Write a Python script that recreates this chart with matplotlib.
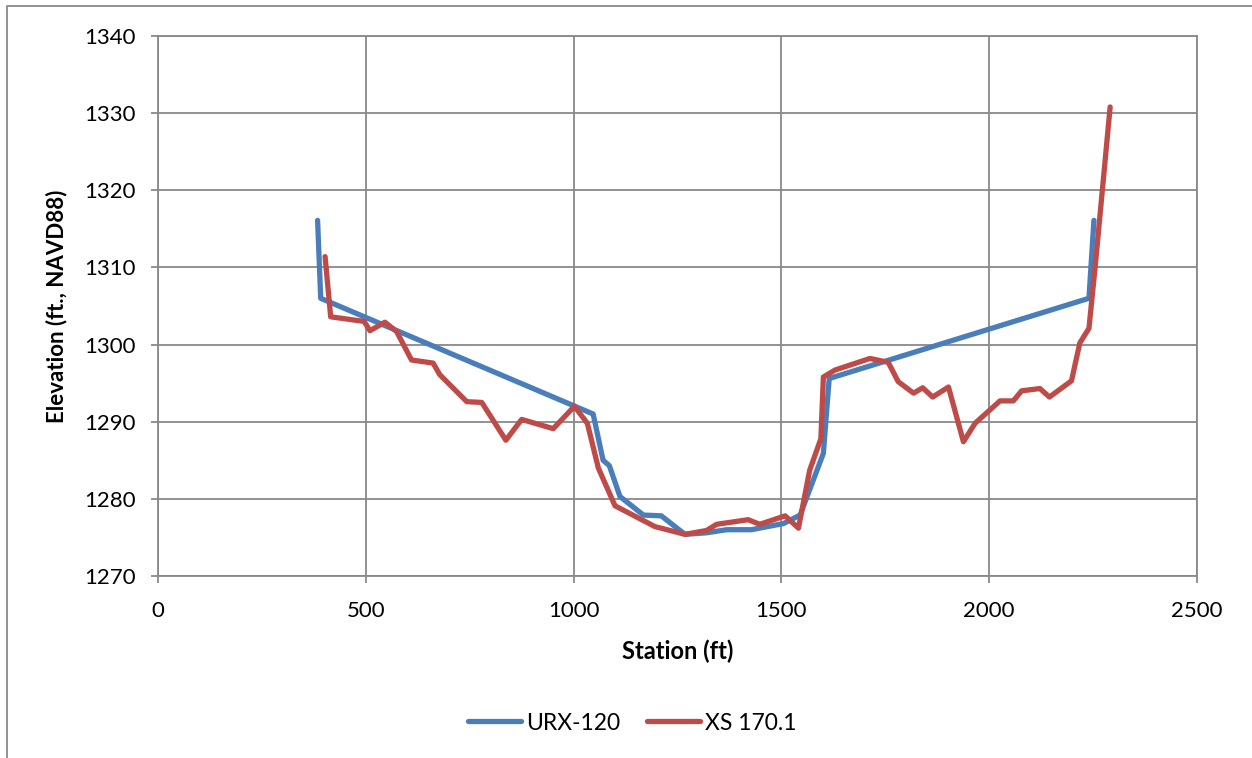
import matplotlib
matplotlib.use("Agg")
import matplotlib.pyplot as plt
from matplotlib.lines import Line2D

# Cross-section survey data: station (ft) vs. elevation (ft, NAVD88)
urx_station = [384, 391.5, 1047, 1071, 1086, 1111.6, 1168, 1211, 1268, 1320,
               1368, 1428, 1505, 1545, 1601, 1615, 2240, 2252]
urx_elev = [1316.1, 1306.0, 1291.0, 1285.0, 1284.3, 1280.3, 1277.9, 1277.8,
            1275.4, 1275.6, 1276.0, 1276.0, 1276.8, 1277.9, 1285.9, 1295.6,
            1306.0, 1316.1]

xs_station = [402, 415.5, 496, 510, 546, 574, 610, 662, 678, 743, 779, 837,
              875, 951, 1002, 1033, 1059.5, 1099.6, 1196, 1268, 1320, 1344,
              1420, 1448, 1509, 1541, 1568, 1595, 1601, 1629, 1713, 1757,
              1781, 1818, 1840, 1864, 1902, 1938, 1966, 2026, 2058, 2078,
              2122, 2145, 2198, 2218, 2240, 2255, 2291]
xs_elev = [1311.4, 1303.6, 1303.0, 1301.8, 1302.9, 1301.7, 1298.0, 1297.6,
           1296.1, 1292.6, 1292.5, 1287.6, 1290.3, 1289.1, 1292.0, 1289.8,
           1284.0, 1279.1, 1276.4, 1275.4, 1275.9, 1276.7, 1277.3, 1276.7,
           1277.8, 1276.2, 1283.7, 1287.8, 1295.8, 1296.7, 1298.2, 1297.7,
           1295.2, 1293.7, 1294.4, 1293.2, 1294.5, 1287.4, 1289.8, 1292.7,
           1292.7, 1294.0, 1294.3, 1293.2, 1295.3, 1300.2, 1302.1, 1310.1,
           1330.8]

series_names = ["URX-120", "XS 170.1"]
x_ticks = [0, 500, 1000, 1500, 2000, 2500]
y_ticks = [1270, 1280, 1290, 1300, 1310, 1320, 1330, 1340]

plt.rcParams["font.family"] = ["Lato", "DejaVu Sans"]

BLUE = "#4a7ebb"
RED = "#be4b48"
GRID = "#898989"

fig = plt.figure(figsize=(12.52, 7.58), dpi=100)
ax = fig.add_axes([158 / 1252, 1 - 576 / 758, (1197 - 158) / 1252, (576 - 36) / 758])

line_kw = dict(linewidth=3.8, solid_capstyle="round", solid_joinstyle="round")
ax.plot(urx_station, urx_elev, color=BLUE, label=series_names[0], zorder=3, **line_kw)
ax.plot(xs_station, xs_elev, color=RED, label=series_names[1], zorder=4, **line_kw)

ax.set_xlim(x_ticks[0], x_ticks[-1])
ax.set_ylim(y_ticks[0], y_ticks[-1])
ax.set_xticks(x_ticks)
ax.set_yticks(y_ticks)
ax.grid(True, color=GRID, linewidth=1.3)
ax.set_axisbelow(True)

for side in ("left", "bottom", "top", "right"):
    ax.spines[side].set_color(GRID)
    ax.spines[side].set_linewidth(1.3)

ax.tick_params(axis="both", which="major", length=5, width=1.3, color=GRID,
               labelsize=16, labelcolor="black")
ax.tick_params(axis="x", pad=13)
ax.tick_params(axis="y", pad=11)

ax.set_xlabel("Station (ft)", fontsize=17, fontweight="bold", labelpad=13)
ax.set_ylabel("Elevation (ft., NAVD88)", fontsize=16, fontweight="bold", labelpad=12)

handles = [Line2D([], [], color=BLUE, linewidth=3.8, solid_capstyle="round"),
           Line2D([], [], color=RED, linewidth=3.8, solid_capstyle="round")]
fig.legend(handles, series_names, loc="center", bbox_to_anchor=(0.505, 1 - 723 / 758),
           ncol=2, frameon=False, fontsize=16.5, handlelength=2.3,
           handletextpad=0.2, columnspacing=1.2)

# Outer chart frame (top and left edges)
fig.add_artist(Line2D([7 / 1252, 7 / 1252, 1.0], [0.0, 1 - 6 / 758, 1 - 6 / 758],
                      transform=fig.transFigure, color=GRID, linewidth=1.3))

fig.savefig("out.png", dpi=100)
